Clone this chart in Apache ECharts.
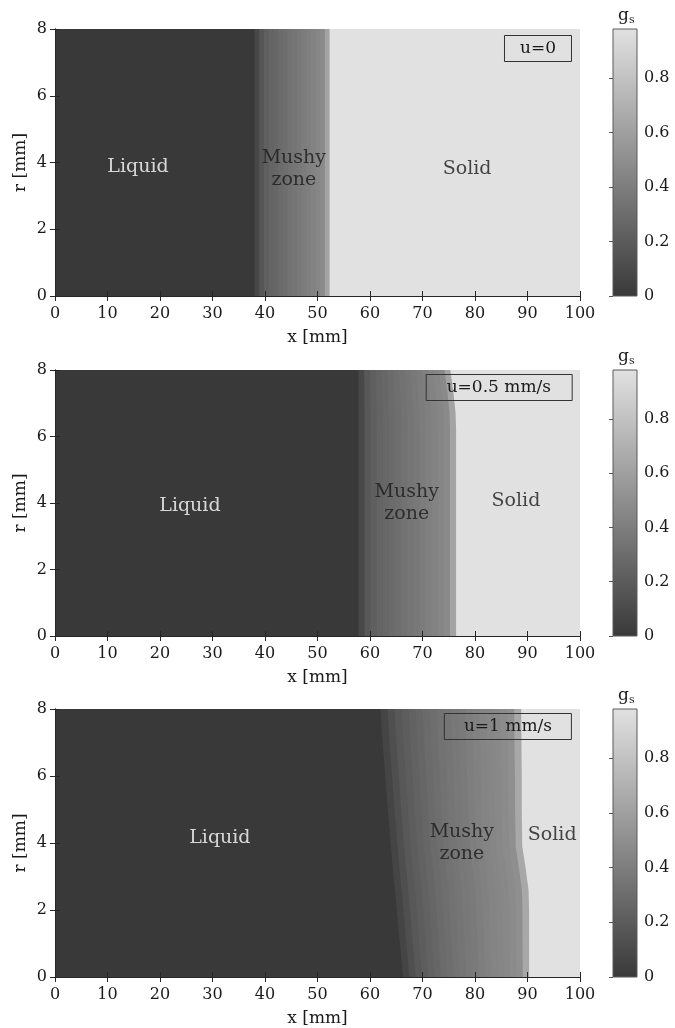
<!DOCTYPE html>
<html>
<head>
<meta charset="utf-8">
<script src="https://cdn.jsdelivr.net/npm/echarts@6/dist/echarts.min.js"></script>
<style>
    html, body { margin: 0; padding: 0; background: #fff; }
    #main { width: 675px; height: 1028px; }
</style>
</head>
<body>
<div id="main"></div>
<script>
(function () {
    'use strict';

    // solid fraction g_s of the pure phases
    var gLiquid = 0;
    var gSolid = 0.98;

    // --- u = 0 ---
    var rKnots1 = [0, 8];                   // r [mm] where the fronts are read
    var liqFront1 = [38.0, 38.0];           // x [mm] where the mushy zone starts
    var solFront1 = [52.3, 52.3];           // x [mm] where the solid starts
    // g_s across the mushy zone, liquid side -> solid side
    var mushy1 = [0.08, 0.17, 0.22, 0.25, 0.27, 0.29, 0.31, 0.33, 0.35, 0.37,
                  0.39, 0.41, 0.43, 0.45, 0.48, 0.62];

    // --- u = 0.5 mm/s ---
    var rKnots2 = [0, 6.2, 6.7, 7.3, 8];
    var liqFront2 = [57.8, 57.8, 57.8, 57.8, 57.8];
    var solFront2 = [76.4, 76.4, 76.3, 75.9, 75.3];
    var mushy2 = [0.09, 0.18, 0.22, 0.25, 0.27, 0.29, 0.31, 0.33, 0.35, 0.37,
                  0.39, 0.41, 0.43, 0.45, 0.47, 0.62];

    // --- u = 1 mm/s ---
    var rKnots3 = [0, 1, 2, 2.6, 3.3, 3.9, 5, 6, 7, 8];
    var liqFront3 = [66.3, 65.7, 65.1, 64.75, 64.3, 64.0, 63.4, 62.9, 62.4, 62.0];
    var solFront3 = [90.3, 90.3, 90.3, 90.2, 89.6, 89.0, 88.9, 88.9, 88.85, 88.8];
    var mushy3 = [0.07, 0.13, 0.18, 0.21, 0.24, 0.26, 0.29, 0.31, 0.33, 0.35,
                  0.37, 0.38, 0.40, 0.42, 0.44, 0.45, 0.46, 0.48, 0.50, 0.65];

    var SERIF = '"DejaVu Serif", "Liberation Serif", serif';
    var INK = '#1a1a1a';
    var FRAME = '#262626';
    var GRAY_LOW = '#393939';
    var GRAY_HIGH = '#e1e1e1';

    // regions drawn left to right, each one from its left edge to x = 100:
    // [edge, g] with edge -1 = x 0, 0..1 = fraction across the mushy zone
    function buildRegions(mushy) {
        var regions = [[-1, gLiquid]];
        mushy.forEach(function (g, k) {
            regions.push([k / mushy.length, g]);
        });
        regions.push([1, gSolid]);
        return regions;
    }

    var panels = [
        {
            tag: 'u=0', top: 29, height: 267, boxTop: 35, boxPad: [5, 16],
            knots: rKnots1, liq: liqFront1, sol: solFront1, regions: buildRegions(mushy1),
            notes: [['Liquid', 15.8, 3.85, '#ffffff'], ['Mushy\nzone', 45.5, 3.8, INK], ['Solid', 78.5, 3.8, INK]]
        },
        {
            tag: 'u=0.5 mm/s', top: 370, height: 266, boxTop: 374, boxPad: [5, 21],
            knots: rKnots2, liq: liqFront2, sol: solFront2, regions: buildRegions(mushy2),
            notes: [['Liquid', 25.7, 3.9, '#ffffff'], ['Mushy\nzone', 67.0, 4.0, INK], ['Solid', 87.8, 4.05, INK]]
        },
        {
            tag: 'u=1 mm/s', top: 709, height: 268, boxTop: 713, boxPad: [5, 20],
            knots: rKnots3, liq: liqFront3, sol: solFront3, regions: buildRegions(mushy3),
            notes: [['Liquid', 31.4, 4.15, '#ffffff'], ['Mushy\nzone', 77.5, 4.0, INK], ['Solid', 94.7, 4.25, INK]]
        }
    ];

    function makeRegionRenderer(p) {
        return function (params, api) {
            var f = api.value(0);
            var n = p.knots.length;
            var pts = [];
            for (var j = 0; j < n; j++) {
                var x = f < 0 ? 0 : p.liq[j] + f * (p.sol[j] - p.liq[j]);
                pts.push(api.coord([x, p.knots[j]]));
            }
            pts.push(api.coord([100, p.knots[n - 1]]));
            pts.push(api.coord([100, p.knots[0]]));
            return {
                type: 'polygon',
                shape: { points: pts },
                style: { fill: api.visual('color') }
            };
        };
    }

    function renderColorbar(params, api) {
        var p0 = api.coord([api.value(0), api.value(3)]);
        var p1 = api.coord([api.value(1), api.value(2)]);
        return {
            type: 'rect',
            shape: { x: p0[0], y: p0[1], width: p1[0] - p0[0], height: p1[1] - p0[1] },
            style: {
                fill: new echarts.graphic.LinearGradient(0, 1, 0, 0, [
                    { offset: 0, color: GRAY_LOW },
                    { offset: 1, color: GRAY_HIGH }
                ]),
                stroke: '#5a5a5a',
                lineWidth: 1
            }
        };
    }

    var tickStyle = { show: true, inside: true, length: 5, lineStyle: { color: FRAME, width: 1 } };
    var lineStyle = { show: true, lineStyle: { color: FRAME, width: 1 } };
    var labelStyle = { fontFamily: SERIF, fontSize: 16, color: INK };

    var grid = [], xAxis = [], yAxis = [], series = [], title = [];
    var fieldSeries = [];

    panels.forEach(function (p, i) {
        grid.push({ left: 55, top: p.top, width: 525, height: p.height });

        xAxis.push({
            gridIndex: i, type: 'value', position: 'bottom', min: 0, max: 100, interval: 10, z: 10,
            axisLine: lineStyle, axisTick: tickStyle, splitLine: { show: false },
            axisLabel: Object.assign({ margin: 10 }, labelStyle),
            name: 'x [mm]', nameLocation: 'middle', nameGap: 33,
            nameTextStyle: { fontFamily: SERIF, fontSize: 17, color: INK }
        });
        xAxis.push({
            gridIndex: i, type: 'value', position: 'top', min: 0, max: 100, interval: 10, z: 10,
            axisLine: lineStyle, axisTick: tickStyle, splitLine: { show: false }, axisLabel: { show: false }
        });
        yAxis.push({
            gridIndex: i, type: 'value', position: 'left', min: 0, max: 8, interval: 2, z: 10,
            axisLine: lineStyle, axisTick: tickStyle, splitLine: { show: false },
            axisLabel: Object.assign({ margin: 8 }, labelStyle),
            name: 'r [mm]', nameLocation: 'middle', nameGap: 26, nameMoveOverlap: false,
            nameTextStyle: { fontFamily: SERIF, fontSize: 17, color: INK }
        });
        yAxis.push({
            gridIndex: i, type: 'value', position: 'right', min: 0, max: 8, interval: 2, z: 10,
            axisLine: lineStyle, axisTick: tickStyle, splitLine: { show: false }, axisLabel: { show: false }
        });

        fieldSeries.push(series.length);
        series.push({
            type: 'custom', xAxisIndex: 2 * i, yAxisIndex: 2 * i, clip: true, silent: true,
            renderItem: makeRegionRenderer(p),
            data: p.regions
        });

        series.push({
            type: 'scatter', xAxisIndex: 2 * i, yAxisIndex: 2 * i, silent: true, z: 5,
            symbolSize: 1, itemStyle: { color: 'transparent' },
            label: {
                show: true, position: 'inside', formatter: '{b}',
                fontFamily: SERIF, fontSize: 19, lineHeight: 22
            },
            data: p.notes.map(function (n) {
                return { name: n[0], value: [n[1], n[2]], label: { color: n[3] } };
            })
        });

        title.push({
            text: p.tag, right: 103, top: p.boxTop, padding: p.boxPad,
            borderColor: '#333', borderWidth: 1,
            textStyle: { fontFamily: SERIF, fontSize: 17, fontWeight: 'normal', color: INK }
        });
        title.push({
            text: '{g|g}{s|s}', left: 613, top: p.top - 29,
            textStyle: {
                rich: {
                    g: { fontFamily: SERIF, fontSize: 17, fontWeight: 'normal', color: INK },
                    s: { fontFamily: SERIF, fontSize: 11, fontWeight: 'normal', color: INK, padding: [10, 0, 0, 0] }
                }
            }
        });
    });

    // colorbars
    panels.forEach(function (p, i) {
        var gi = panels.length + i;
        grid.push({ left: 613, top: p.top, width: 24, height: p.height });
        xAxis.push({ gridIndex: gi, type: 'value', min: 0, max: 1, show: false });
        yAxis.push({
            gridIndex: gi, type: 'value', position: 'right', min: 0, max: gSolid, interval: 0.2, z: 10,
            axisLine: { show: false },
            axisTick: { show: true, inside: true, length: 4, lineStyle: { color: '#555' } },
            splitLine: { show: false },
            axisLabel: Object.assign({ margin: 7, showMaxLabel: false }, labelStyle)
        });
        series.push({
            type: 'custom', xAxisIndex: xAxis.length - 1, yAxisIndex: yAxis.length - 1, silent: true,
            renderItem: renderColorbar,
            data: [[0, 1, gLiquid, gSolid]]
        });
    });

    var chart = echarts.init(document.getElementById('main'), null, { renderer: 'canvas' });
    chart.setOption({
        animation: false,
        backgroundColor: '#ffffff',
        title: title,
        grid: grid,
        xAxis: xAxis,
        yAxis: yAxis,
        visualMap: {
            type: 'continuous', show: false, dimension: 1, seriesIndex: fieldSeries,
            min: gLiquid, max: gSolid,
            inRange: { color: [GRAY_LOW, GRAY_HIGH] }
        },
        series: series
    });
})();
</script>
</body>
</html>
